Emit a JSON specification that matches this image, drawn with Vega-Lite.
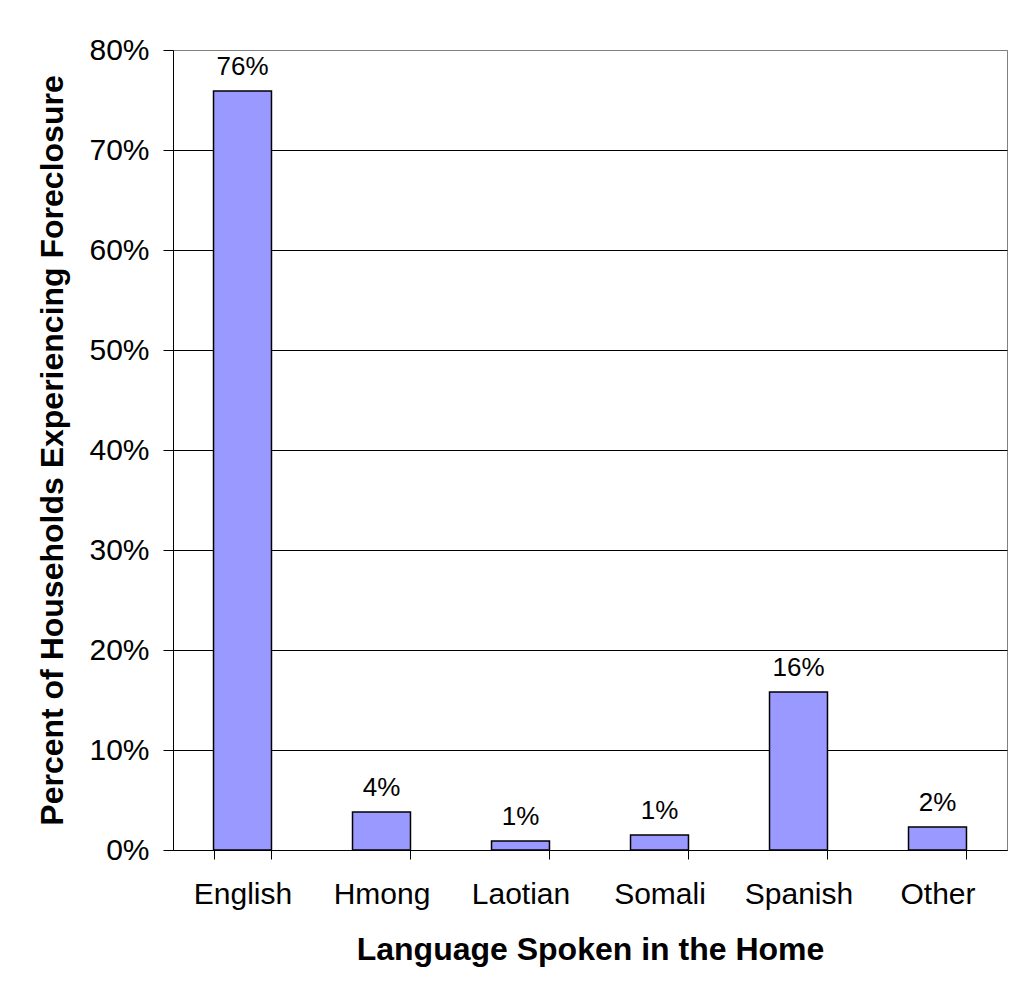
{
  "$schema": "https://vega.github.io/schema/vega-lite/v6.json",
  "width": 834,
  "height": 800,
  "autosize": {"type": "none"},
  "padding": {"left": 173, "top": 50, "right": 3, "bottom": 138},
  "background": "white",
  "config": {
    "font": "Liberation Sans",
    "view": {"stroke": "#808080", "strokeWidth": 1}
  },
  "data": {
    "values": [
      {"language": "English", "pct": 0.759, "label": "76%"},
      {"language": "Hmong", "pct": 0.038, "label": "4%"},
      {"language": "Laotian", "pct": 0.009, "label": "1%"},
      {"language": "Somali", "pct": 0.015, "label": "1%"},
      {"language": "Spanish", "pct": 0.158, "label": "16%"},
      {"language": "Other", "pct": 0.023, "label": "2%"}
    ]
  },
  "encoding": {
    "x": {
      "field": "language",
      "type": "nominal",
      "sort": null,
      "scale": {"paddingInner": 0.583, "paddingOuter": 0.2915},
      "axis": {
        "title": "Language Spoken in the Home",
        "titleFont": "Liberation Sans",
        "titleFontSize": 32,
        "titleFontWeight": "bold",
        "titleColor": "black",
        "titlePadding": 25,
        "labelAngle": 0,
        "labelFontSize": 30,
        "labelColor": "black",
        "labelPadding": 20,
        "tickBand": "extent",
        "tickSize": 9,
        "tickColor": "black",
        "domainColor": "black",
        "grid": false
      }
    },
    "y": {
      "field": "pct",
      "type": "quantitative",
      "scale": {"domain": [0, 0.8], "nice": false},
      "axis": {
        "title": "Percent of Households Experiencing Foreclosure",
        "titleFont": "Liberation Sans",
        "titleFontSize": 32,
        "titleFontWeight": "bold",
        "titleColor": "black",
        "titlePadding": 19,
        "values": [0, 0.1, 0.2, 0.3, 0.4, 0.5, 0.6, 0.7, 0.8],
        "format": ".0%",
        "labelFontSize": 30,
        "labelColor": "black",
        "labelPadding": 14,
        "tickSize": 10,
        "tickColor": "black",
        "domainColor": "black",
        "grid": true,
        "gridColor": {"condition": {"test": "datum.value >= 0.8", "value": "#808080"}, "value": "black"},
        "gridOpacity": 1
      }
    }
  },
  "layer": [
    {
      "mark": {"type": "bar", "fill": "#9999FF", "stroke": "black", "strokeWidth": 1.5}
    },
    {
      "mark": {"type": "text", "fontSize": 26, "baseline": "alphabetic", "dy": -16, "color": "black"},
      "encoding": {"text": {"field": "label"}}
    }
  ]
}
